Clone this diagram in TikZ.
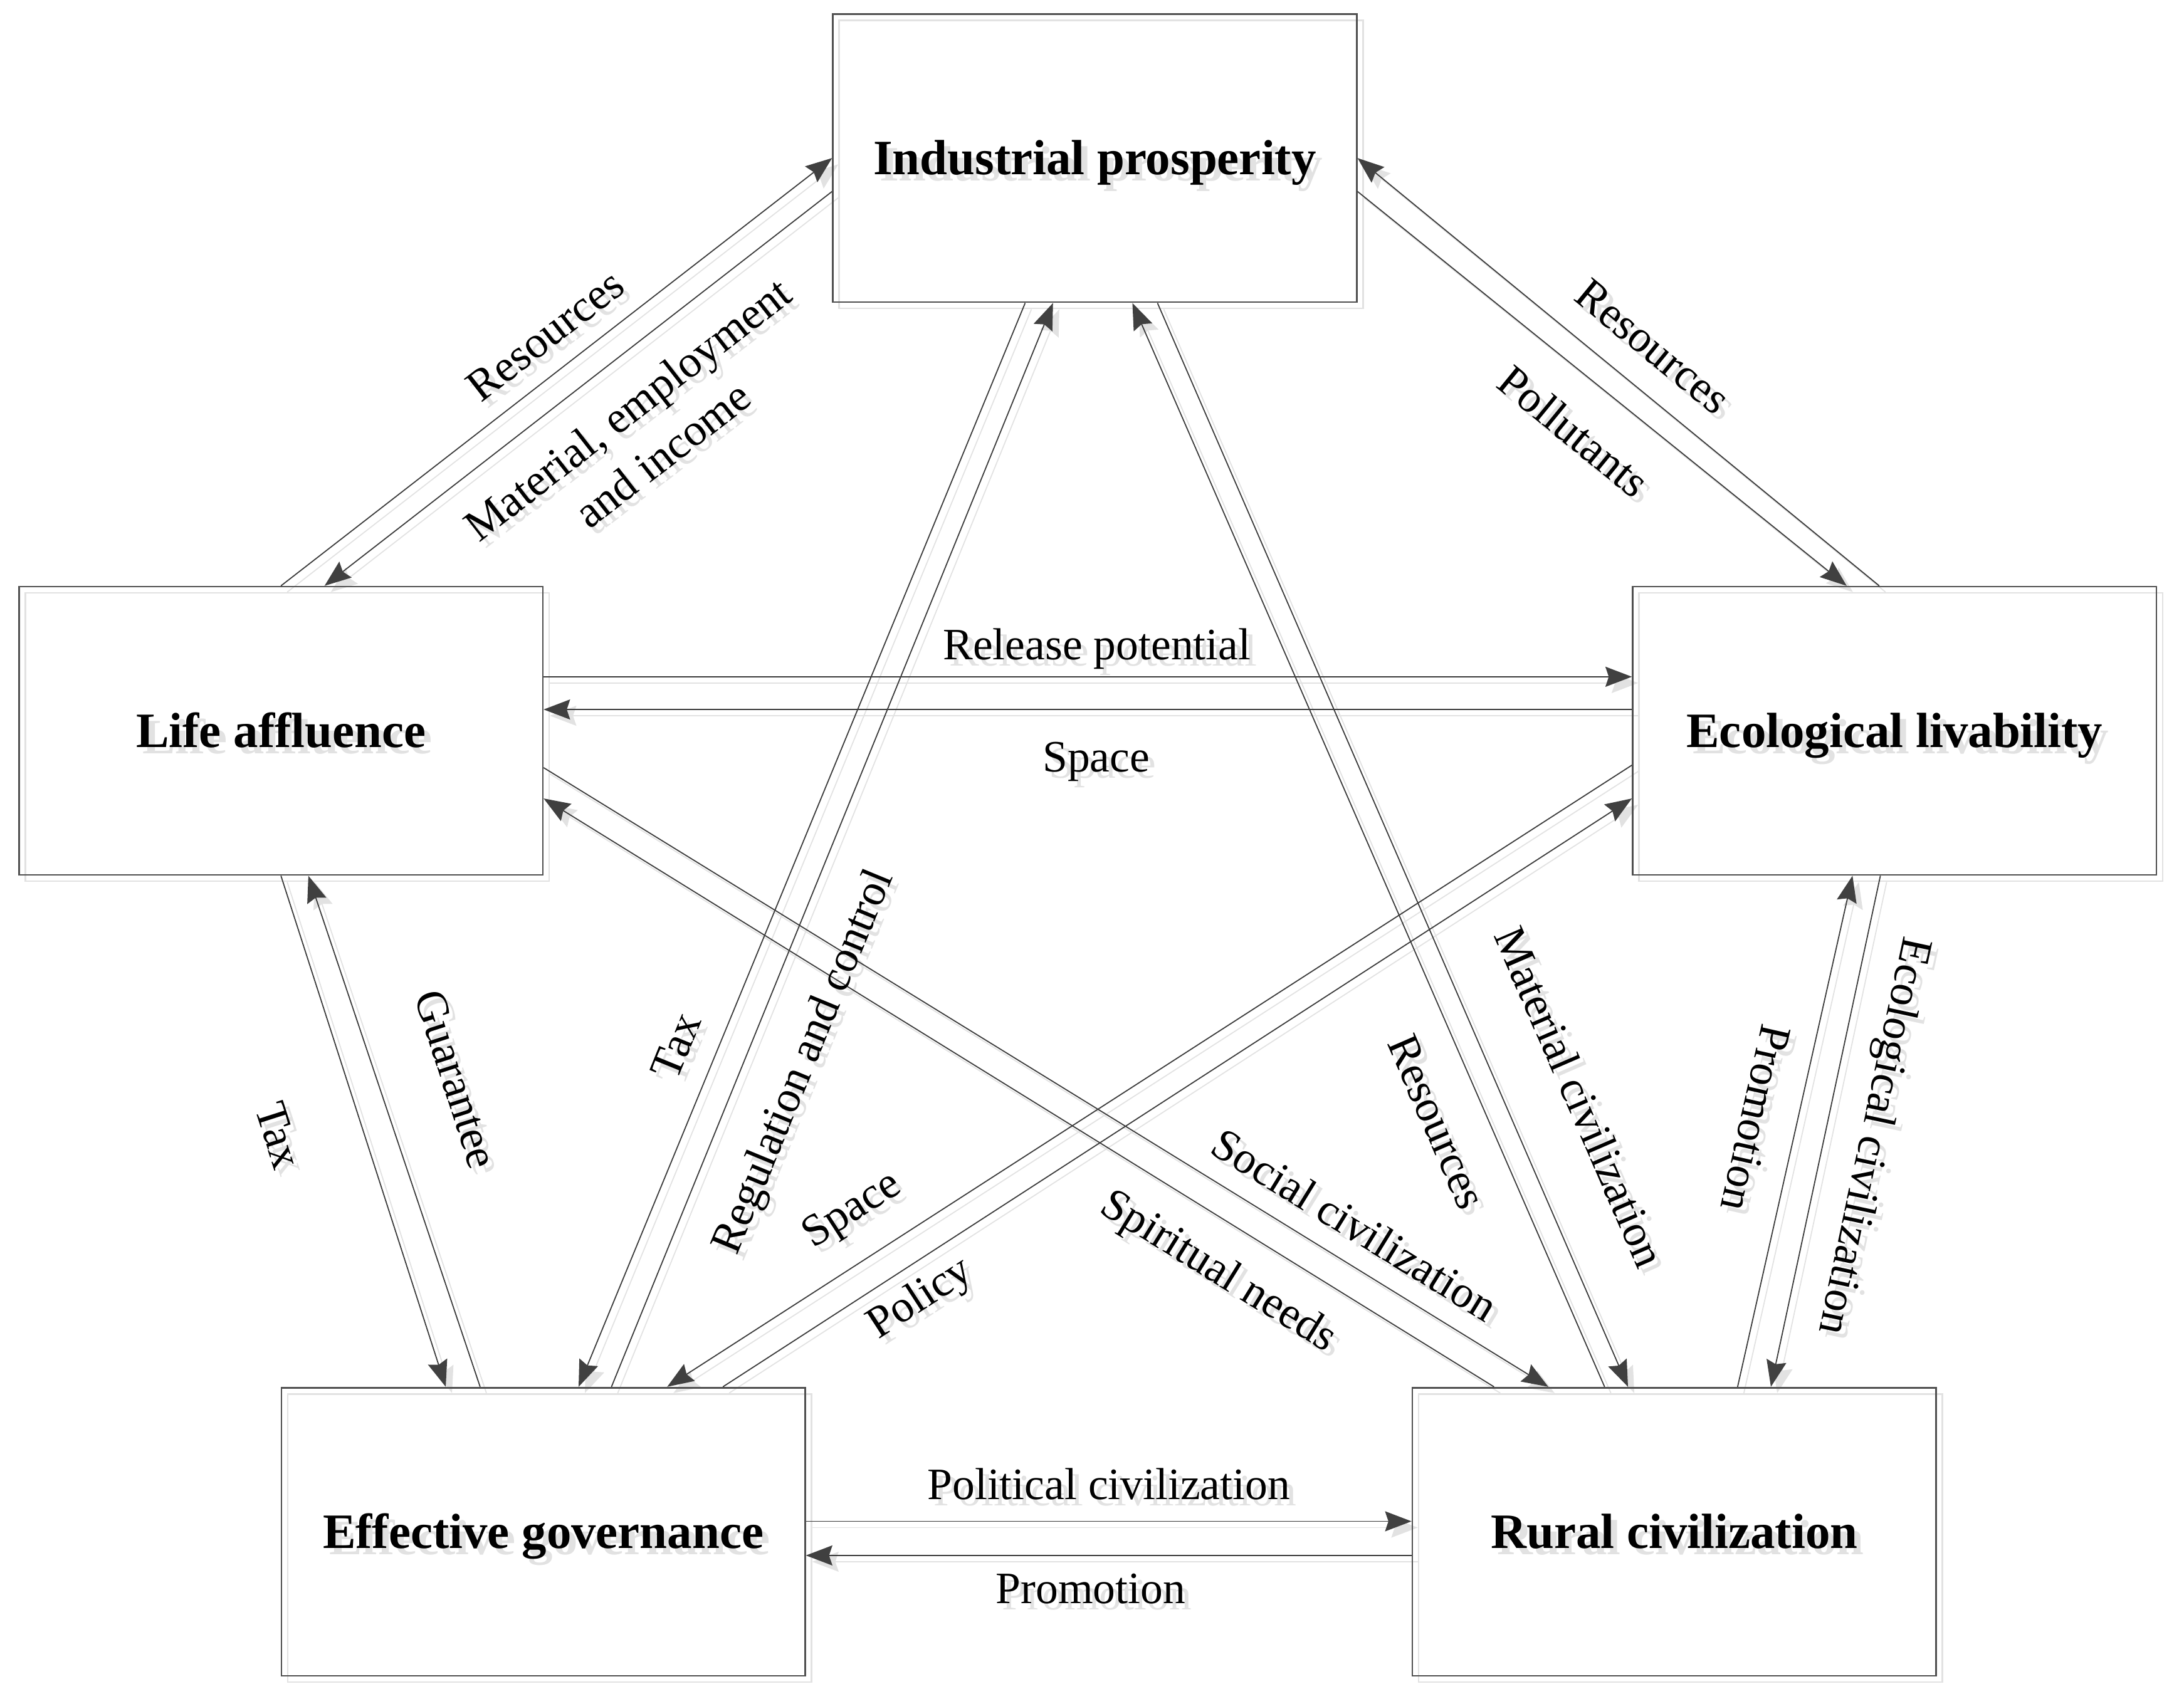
\documentclass[tikz,border=0pt]{standalone}
\usepackage{fontspec}
\setmainfont{Liberation Serif}
\usetikzlibrary{arrows.meta,calc}
\definecolor{boxc}{HTML}{505050}
\definecolor{linec}{HTML}{3A3A3A}
\definecolor{headc}{HTML}{404040}
\definecolor{txtc}{HTML}{000000}
\definecolor{shadowc}{HTML}{E2E2E2}
\tikzset{
  box/.style={draw=boxc, line width=0.6pt, minimum width=188pt, minimum height=103.5pt,
    inner sep=0pt, text=txtc, text height=11.75pt, text depth=0pt,
    font=\fontsize{17.75}{20}\selectfont\bfseries},
  lbl/.style={text=txtc, inner sep=0pt, align=center,
    font=\fontsize{16.1}{20.5}\selectfont},
  conn/.style={draw=linec, line width=0.4pt,
    -{Stealth[length=9.5pt,width=7.2pt,inset=1.2pt,color=headc]}},
}
\newcommand\wholediagram{%
  % boxes
  \node[box] (ind)  at (786,113.5)   {Industrial prosperity};
  \node[box] (life) at (201.7,524.8) {Life affluence};
  \node[box] (eco)  at (1360.2,524.8){Ecological livability};
  \node[box] (eff)  at (390,1100)    {Effective governance};
  \node[box] (rur)  at (1202,1100)   {Rural civilization};
  % life <-> industrial
  \draw[conn] (life.north) -- (ind.west);
  \draw[conn] ($(ind.west)+(0,24)$) -- ($(life.north)+(31.3,0)$);
  % industrial <-> ecological
  \draw[conn] ($(eco.north)+(-11,0)$) -- (ind.east);
  \draw[conn] ($(ind.east)+(0,24)$) -- ($(eco.north)+(-34.4,0)$);
  % life <-> ecological
  \draw[conn] ($(life.east)+(0,-38.8)$) -- ($(eco.west)+(0,-38.8)$);
  \draw[conn] ($(eco.west)+(0,-15.3)$) -- ($(life.east)+(0,-15.3)$);
  % life <-> effective
  \draw[conn] (life.south) -- ($(eff.north)+(-70,0)$);
  \draw[conn] ($(eff.north)+(-45.3,0)$) -- ($(life.south)+(19.7,0)$);
  % industrial <-> effective
  \draw[conn] ($(eff.north)+(49,0)$) -- ($(ind.south)+(-30,0)$);
  \draw[conn] ($(ind.south)+(-50,0)$) -- ($(eff.north)+(25.4,0)$);
  % industrial <-> rural
  \draw[conn] ($(rur.north)+(-50,0)$) -- ($(ind.south)+(27,0)$);
  \draw[conn] ($(ind.south)+(45,0)$) -- ($(rur.north)+(-33.2,0)$);
  % ecological <-> rural
  \draw[conn] ($(rur.north)+(45.5,0)$) -- ($(eco.south)+(-30.2,0)$);
  \draw[conn] ($(eco.south)+(-10.2,0)$) -- ($(rur.north)+(69.4,0)$);
  % life <-> rural
  \draw[conn] ($(life.east)+(0,26.5)$) -- ($(rur.north)+(-90.4,0)$);
  \draw[conn] ($(rur.north)+(-129.4,0)$) -- ($(life.east)+(0,48.6)$);
  % ecological <-> effective
  \draw[conn] ($(eco.west)+(0,24.7)$) -- ($(eff.north)+(89,0)$);
  \draw[conn] ($(eff.north)+(129,0)$) -- ($(eco.west)+(0,48.6)$);
  % effective <-> rural
  \draw[conn] ($(eff.east)+(0,-7.5)$) -- ($(rur.west)+(0,-7.5)$);
  \draw[conn] ($(rur.west)+(0,17)$) -- ($(eff.east)+(0,17)$);
  % labels
  \node[lbl, rotate=37.8]  (l1)  at (391.5,240.9) {Resources};
  \node[lbl, rotate=37.8]  (l2)  at (463,310)     {Material, employment\\and income};
  \node[lbl, rotate=-39.3] (l3)  at (1186.6,249)  {Resources};
  \node[lbl, rotate=-39.3] (l4)  at (1130,309.6)  {Pollutants};
  \node[lbl]               (l5)  at (787.5,466)   {Release potential};
  \node[lbl]               (l6)  at (787,547)     {Space};
  \node[lbl, rotate=-72.2] (l7)  at (200,815.5)   {Tax};
  \node[lbl, rotate=-72.2] (l8)  at (327.6,775)   {Guarantee};
  \node[lbl, rotate=67.9]  (l9)  at (485.4,751)   {Tax};
  \node[lbl, rotate=67.6]  (l10) at (578,763)     {Regulation and control};
  \node[lbl, rotate=32.8]  (l11) at (612.3,869.8) {Space};
  \node[lbl, rotate=32.9]  (l12) at (661,933)     {Policy};
  \node[lbl, rotate=-31.7] (l13) at (874.3,914)   {Spiritual needs};
  \node[lbl, rotate=-31.6] (l14) at (972.8,879.4) {Social civilization};
  \node[lbl, rotate=-66.5] (l15) at (1031.5,805.6){Resources};
  \node[lbl, rotate=-66.6] (l16) at (1134.4,787.6){Material civilization};
  \node[lbl, rotate=-102.7](l17) at (1260.6,803)  {Promotion};
  \node[lbl, rotate=-102.1](l18) at (1343.9,815.5){Ecological civilization};
  \node[lbl]               (l19) at (796,1065.6)  {Political civilization};
  \node[lbl]               (l20) at (783,1141)    {Promotion};
}
\begin{document}
\begin{tikzpicture}[x=0.5pt,y=-0.5pt]
\useasboundingbox (0,0) rectangle (1568,1219.7);
\begin{scope}[shift={(4.5,4.5)}]
  \colorlet{boxc}{shadowc}\colorlet{linec}{shadowc}%
  \colorlet{headc}{shadowc}\colorlet{txtc}{shadowc}%
  \wholediagram
\end{scope}
\wholediagram
\end{tikzpicture}
\end{document}
